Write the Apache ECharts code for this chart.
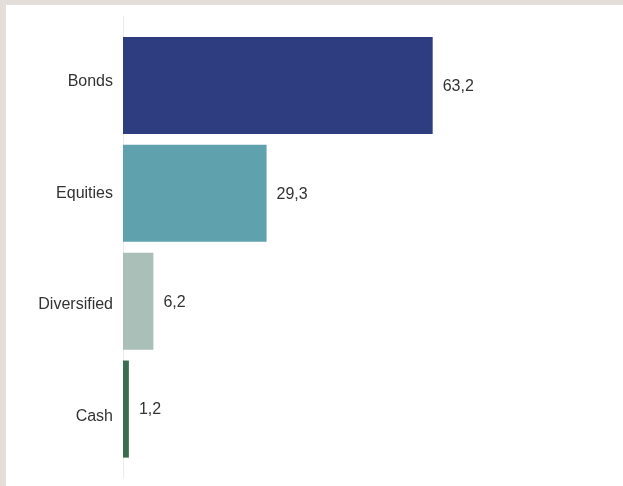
<!DOCTYPE html>
<html>
<head>
<meta charset="utf-8">
<script src="https://cdn.jsdelivr.net/npm/echarts@6/dist/echarts.min.js"></script>
<style>
  html, body { margin: 0; padding: 0; background: #e3ded9; }
  #chart { position: absolute; left: 6px; top: 5px; width: 617px; height: 481px; background: #ffffff; }
</style>
</head>
<body>
<div id="chart"></div>
<script>
// data
const categories = ['Bonds', 'Equities', 'Diversified', 'Cash'];
const values = [63.2, 29.3, 6.2, 1.2];
const colors = ['#2e3d7f', '#5fa1ac', '#a9bfb7', '#3c6c50'];

const myChart = echarts.init(document.getElementById('chart'));

const textStyle = {
  color: '#333333',
  fontSize: 16,
  fontFamily: 'Liberation Sans, Arial, sans-serif'
};

const option = {
  animation: false,
  grid: [
    { left: 117, right: 10, top: 26.5, height: 431.5 }, // bars
    { left: 117, right: 10, top: 11, bottom: 8 },       // long faint axis line
    { left: 117, right: 10, top: 21, height: 446 }      // category labels
  ],
  xAxis: [
    { gridIndex: 0, type: 'value', min: 0, max: 100, show: false },
    { gridIndex: 1, type: 'value', min: 0, max: 100, show: false },
    { gridIndex: 2, type: 'value', min: 0, max: 100, show: false }
  ],
  yAxis: [
    {
      gridIndex: 0,
      type: 'category',
      data: categories,
      inverse: true,
      axisLine: { show: false },
      axisTick: { show: false },
      axisLabel: { show: false }
    },
    {
      gridIndex: 1,
      type: 'value',
      axisLine: { show: true, lineStyle: { color: '#ebebeb', width: 1 } },
      axisTick: { show: false },
      axisLabel: { show: false },
      splitLine: { show: false }
    },
    {
      gridIndex: 2,
      type: 'category',
      data: categories,
      inverse: true,
      axisLine: { show: false },
      axisTick: { show: false },
      axisLabel: Object.assign({ margin: 10 }, textStyle)
    }
  ],
  series: [
    {
      type: 'bar',
      xAxisIndex: 0,
      yAxisIndex: 0,
      barCategoryGap: '10%',
      data: values.map((v, i) => ({ value: v, itemStyle: { color: colors[i] } })),
      label: Object.assign({
        show: true,
        position: 'right',
        distance: 10,
        offset: [0, 1],
        formatter: (p) => String(p.value).replace('.', ',')
      }, textStyle)
    }
  ]
};

myChart.setOption(option);
</script>
</body>
</html>
